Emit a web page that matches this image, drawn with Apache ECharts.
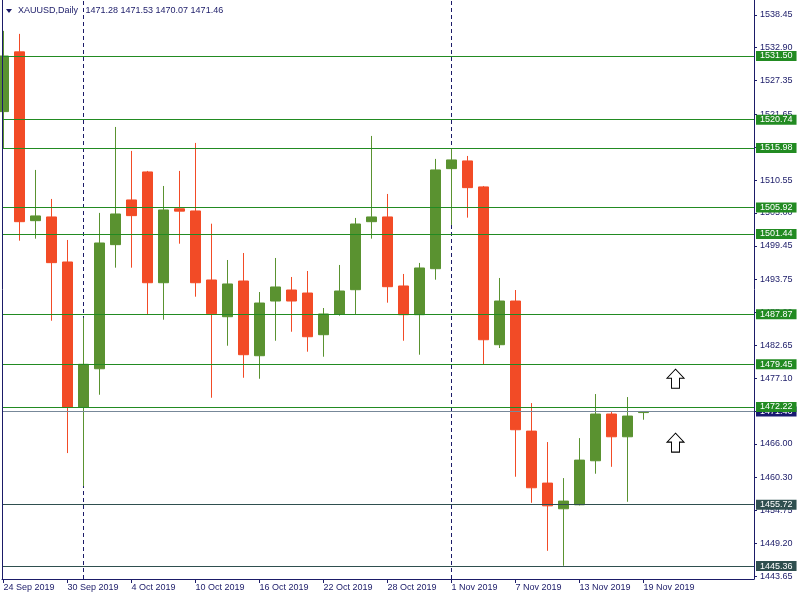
<!DOCTYPE html>
<html>
<head>
<meta charset="utf-8">
<script src="https://cdn.jsdelivr.net/npm/echarts@6/dist/echarts.min.js"></script>
<style>html,body{margin:0;padding:0;background:#fff}#c{width:800px;height:600px}</style>
</head>
<body>
<div id="c"></div>
<script>
const symbolName = 'XAUUSD,Daily';
const dates = [
  '24 Sep 2019','25 Sep 2019','26 Sep 2019','27 Sep 2019','30 Sep 2019',
  '1 Oct 2019','2 Oct 2019','3 Oct 2019','4 Oct 2019','7 Oct 2019','8 Oct 2019','9 Oct 2019','10 Oct 2019','11 Oct 2019',
  '14 Oct 2019','15 Oct 2019','16 Oct 2019','17 Oct 2019','18 Oct 2019','21 Oct 2019','22 Oct 2019','23 Oct 2019',
  '24 Oct 2019','25 Oct 2019','28 Oct 2019','29 Oct 2019','30 Oct 2019','31 Oct 2019',
  '1 Nov 2019','4 Nov 2019','5 Nov 2019','6 Nov 2019','7 Nov 2019','8 Nov 2019','11 Nov 2019','12 Nov 2019',
  '13 Nov 2019','14 Nov 2019','15 Nov 2019','18 Nov 2019','19 Nov 2019'
];
const opens  = [1522.11,1532.20,1503.69,1504.32,1496.71,1472.22,1478.68,1499.64,1507.19,1511.92,1493.21,1505.70,1505.33,1493.67,1487.47,1493.50,1480.88,1490.12,1491.98,1491.47,1484.43,1487.93,1492.03,1503.52,1504.32,1492.66,1487.81,1495.58,1512.48,1513.78,1509.39,1482.74,1490.12,1468.15,1459.37,1455.03,1455.70,1463.14,1471.03,1467.19,1471.28];
const highs  = [1535.75,1535.24,1512.26,1507.36,1500.43,1487.30,1505.00,1519.52,1515.47,1512.09,1509.55,1512.09,1516.82,1503.18,1497.05,1498.23,1491.64,1497.39,1494.18,1495.19,1488.94,1496.21,1504.15,1518.00,1508.20,1494.69,1496.55,1514.12,1515.92,1514.62,1509.55,1494.01,1491.98,1472.88,1466.30,1460.21,1466.97,1474.41,1471.37,1473.90,1471.53];
const lows   = [1515.81,1500.31,1500.65,1486.79,1464.44,1458.86,1474.29,1495.75,1495.75,1487.93,1486.96,1499.80,1490.85,1473.78,1482.57,1477.16,1476.99,1483.41,1484.93,1481.56,1480.71,1487.64,1487.93,1500.65,1489.84,1483.41,1481.05,1493.72,1502.97,1504.20,1479.43,1482.18,1460.44,1456.04,1447.93,1445.40,1455.60,1460.95,1462.12,1456.21,1470.07];
const closes = [1531.50,1503.52,1504.49,1496.60,1472.22,1479.43,1499.92,1504.82,1504.54,1493.21,1505.50,1505.30,1493.21,1487.98,1493.00,1481.05,1489.78,1492.49,1490.12,1484.09,1487.93,1491.81,1503.13,1504.32,1492.54,1487.81,1495.70,1512.26,1513.95,1509.27,1483.58,1490.12,1468.38,1458.58,1455.53,1456.33,1463.25,1471.03,1467.19,1470.69,1471.46];
const levelsGreen = [1531.50,1520.74,1515.98,1505.92,1501.44,1487.87,1479.45,1472.22];
const levelsSlate = [1455.72,1445.36];
const currentPrice = 1471.46;
const priceTicks = [1538.45,1532.90,1527.35,1521.65,1516.10,1510.55,1505.00,1499.45,1493.75,1488.20,1482.65,1477.10,1471.55,1466.00,1460.30,1454.75,1449.20,1443.65];
const dateTickIdx = [0,4,8,12,16,20,24,28,32,36,40];
const arrowIdx = [42,42];
const arrowPrice = [1477.0,1466.2];

const NAVY = '#1b1b68';
const GREEN = '#5a9230';
const RED = '#f24b26';
const LVL_G = '#228b22';
const LVL_S = '#2f4f4f';
const FONT = 'Liberation Sans';

const candleData = dates.map((d, i) => [i, opens[i], closes[i], lows[i], highs[i]]);
const sepIdx = dates.map((d, i) => i).filter(i => i > 0 && dates[i].split(' ')[1] !== dates[i - 1].split(' ')[1]);

function lvl(v, color, bg) {
  return {
    yAxis: v,
    lineStyle: {color: color, width: 1, type: 'solid'},
    label: {
      show: true, position: 'end', distance: 2,
      formatter: () => v.toFixed(2),
      backgroundColor: bg, color: '#fff', fontSize: 9, fontFamily: FONT,
      lineHeight: 9, padding: [1, 4, 0, 4]
    }
  };
}

const markData = [lvl(currentPrice, '#778899', '#191970')]
  .concat(levelsSlate.map(v => lvl(v, LVL_S, LVL_S)))
  .concat(levelsGreen.map(v => lvl(v, LVL_G, LVL_G)));

const last = dates.length - 1;
const header = symbolName + '   ' + [opens[last], highs[last], lows[last], closes[last]].map(v => v.toFixed(2)).join(' ');

const yMin = 1443.17, yMax = 1540.96;

const chart = echarts.init(document.getElementById('c'), null, {renderer: 'canvas'});
chart.setOption({
  animation: false,
  backgroundColor: '#ffffff',
  textStyle: {fontFamily: FONT},
  title: {
    text: header, left: 18, top: 6, padding: 0,
    textStyle: {fontSize: 9, fontWeight: 'normal', color: NAVY, fontFamily: FONT}
  },
  graphic: [
    {type: 'polygon', shape: {points: [[6, 9], [12, 9], [9, 13]]}, style: {fill: NAVY}, z: 10},
    {type: 'line', shape: {x1: 2.5, y1: 0, x2: 2.5, y2: 579}, style: {stroke: NAVY, lineWidth: 1}, z: 10}
  ],
  grid: {left: 2, right: 46, top: 0, bottom: 21},
  xAxis: {
    type: 'value', min: -0.094, max: 46.906,
    splitLine: {show: false},
    axisLine: {onZero: false, lineStyle: {color: NAVY, width: 1}},
    axisTick: {show: true, customValues: dateTickIdx, length: 4, lineStyle: {color: NAVY}},
    axisLabel: {
      customValues: dateTickIdx, formatter: v => dates[v] || '',
      align: 'left', margin: 4, color: NAVY, fontSize: 9, fontFamily: FONT
    }
  },
  yAxis: {
    type: 'value', position: 'right', min: yMin, max: yMax,
    splitLine: {show: false},
    axisLine: {show: true, onZero: false, lineStyle: {color: NAVY, width: 1}},
    axisTick: {show: true, customValues: priceTicks, length: 3, lineStyle: {color: NAVY}},
    axisLabel: {
      customValues: priceTicks, formatter: v => v.toFixed(2),
      margin: 6, color: NAVY, fontSize: 9, fontFamily: FONT
    }
  },
  series: [{
    type: 'line', data: [], z: 1, silent: true,
    markLine: {
      z: 1, silent: true, symbol: 'none', animation: false,
      label: {show: false},
      lineStyle: {color: NAVY, width: 1, type: [4, 3]},
      data: sepIdx.map(i => ({xAxis: i}))
    }
  }, {
    type: 'candlestick', data: candleData, barWidth: 10, z: 2,
    itemStyle: {color: GREEN, color0: RED, borderColor: GREEN, borderColor0: RED, borderWidth: 1},
    markLine: {
      silent: true, symbol: 'none', animation: false, z: 5,
      data: markData
    }
  }, {
    type: 'scatter', z: 6, silent: true,
    data: arrowIdx.map((x, k) => [x, arrowPrice[k]]),
    symbol: 'path://M8.5,0 L17,9 L12.5,9 L12.5,19 L4.5,19 L4.5,9 L0,9 Z',
    symbolSize: [17, 19],
    itemStyle: {color: '#ffffff', borderColor: '#000000', borderWidth: 1, opacity: 1}
  }]
});
</script>
</body>
</html>
